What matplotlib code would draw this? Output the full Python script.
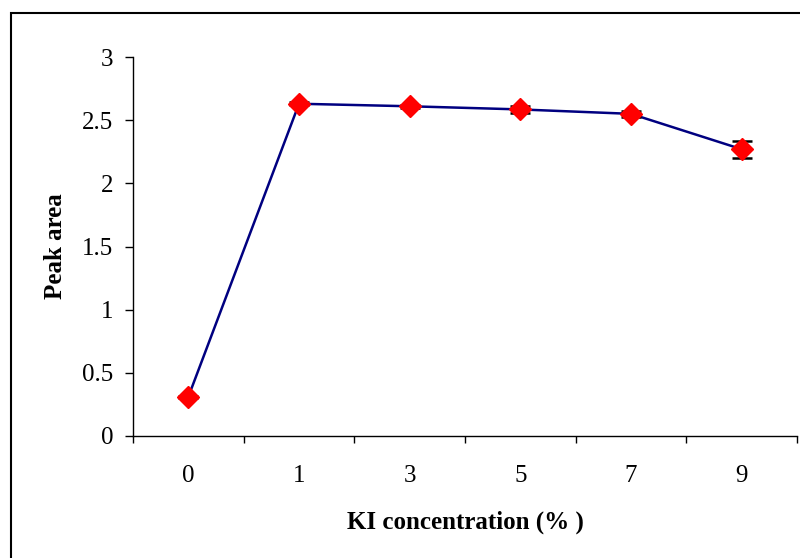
import matplotlib
matplotlib.use("Agg")
import matplotlib.pyplot as plt
from matplotlib.patches import Rectangle
import numpy as np

# KI concentration (%) categories and measured peak areas
categories = ["0", "1", "3", "5", "7", "9"]
peak_area = [0.31, 2.63, 2.61, 2.585, 2.55, 2.27]
peak_err = [0.01, 0.01, 0.01, 0.025, 0.025, 0.066]

plt.rcParams["font.family"] = ["Liberation Serif", "DejaVu Serif"]

fig = plt.figure(figsize=(8.0, 5.58), dpi=100)
ax = fig.add_axes([133 / 800, 1 - 436 / 558, (797 - 133) / 800, (436 - 57) / 558])

x = np.arange(len(categories))
ax.plot(x, peak_area, color="#000080", lw=1.8, zorder=2)
ax.errorbar(x, peak_area, yerr=peak_err, fmt="none", ecolor="black",
            elinewidth=1.0, capsize=7.5, capthick=1.8, zorder=3)
ax.plot(x, peak_area, ls="none", marker="D", ms=11, color="#ff0000",
        mec="#ff0000", zorder=4)

ax.set_xlim(-0.5, len(categories) - 0.5)
ax.set_ylim(0, 3)
ax.set_yticks([0, 0.5, 1, 1.5, 2, 2.5, 3])
ax.set_yticklabels(["0", "0.5", "1", "1.5", "2", "2.5", "3"])
ax.set_xticks(x)
ax.set_xticklabels(categories)
ax.set_xticks(np.arange(-0.5, len(categories)), minor=True)

ax.spines["top"].set_visible(False)
ax.spines["right"].set_visible(False)
for s in ("left", "bottom"):
    ax.spines[s].set_linewidth(1.0)
    ax.spines[s].set_color("black")

ax.tick_params(axis="y", direction="out", length=6, width=1.0, pad=8,
               labelsize=18)
ax.tick_params(axis="x", which="major", length=0, pad=21, labelsize=18)
ax.tick_params(axis="x", which="minor", direction="out", length=5, width=1.0)

ax.set_xlabel("KI concentration (% )", fontsize=18, fontweight="bold",
              labelpad=17)
ax.set_ylabel("Peak area", fontsize=18, fontweight="bold", labelpad=11)

# chart area frame
fig.patches.append(Rectangle((11 / 800, -0.5), 2.0, 1.5 - 13 / 558,
                             transform=fig.transFigure, fill=False,
                             edgecolor="black", lw=1.5))

fig.savefig("out.png", dpi=100)
